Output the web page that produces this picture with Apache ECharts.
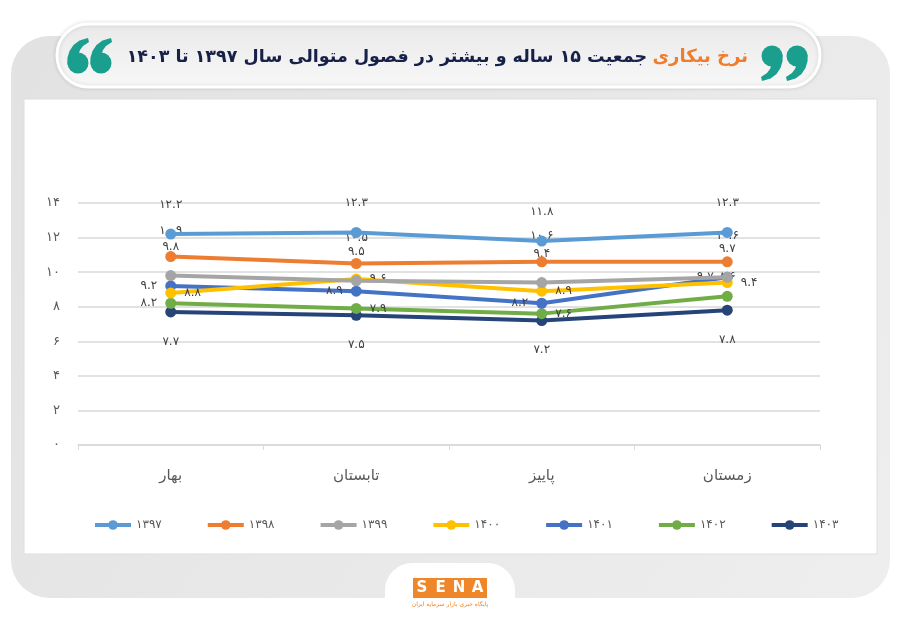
<!DOCTYPE html>
<html>
<head>
<meta charset="utf-8">
<script src="https://cdn.jsdelivr.net/npm/echarts@6/dist/echarts.min.js"></script>
<style>
  html, body { margin: 0; padding: 0; background: #fff; }
  #container { width: 900px; height: 623px; }
</style>
</head>
<body>
<div id="container"></div>
<script>
// fasl-ha va sal-ha
var seasons = ['بهار', 'تابستان', 'پاییز', 'زمستان'];
var years = ['۱۳۹۷', '۱۳۹۸', '۱۳۹۹', '۱۴۰۰', '۱۴۰۱', '۱۴۰۲', '۱۴۰۳'];

// nerkh bikari (darsad)
var s1397 = [12.2, 12.3, 11.8, 12.3];
var s1398 = [10.9, 10.5, 10.6, 10.6];
var s1399 = [9.8, 9.5, 9.4, 9.7];
var s1400 = [8.8, 9.6, 8.9, 9.4];
var s1401 = [9.2, 8.9, 8.2, 9.7];
var s1402 = [8.2, 7.9, 7.6, 8.6];
var s1403 = [7.7, 7.5, 7.2, 7.8];

var yTicks = [0, 2, 4, 6, 8, 10, 12, 14];

var colors = ['#5b9bd5', '#ed7d31', '#a5a5a5', '#ffc000', '#4472c4', '#70ad47', '#264478'];
var FONT = 'DejaVu Sans';
var TEAL = '#1a9e8d';

function fa(v){
    return String(v).replace(/\d/g, function(d){ return '۰۱۲۳۴۵۶۷۸۹'[d]; });
}

var allSeries = [s1397, s1398, s1399, s1400, s1401, s1402, s1403];
// label placement per series (style only)
var labelPos = [
    ['top', 'top', 'top', 'top'],
    ['top', 'top', 'top', 'top'],
    ['top', 'top', 'top', 'top'],
    ['right', 'right', 'right', 'right'],
    ['left', 'left', 'left', 'left'],
    ['left', 'right', 'right', 'top'],
    ['bottom', 'bottom', 'bottom', 'bottom']
];
var labelDist = [18, 14, 17, 8, 8, 8, 18];

var myChart = echarts.init(document.getElementById('container'));

var series = [];
for(let i = 0; i < allSeries.length; i++){
    series.push({
        name: years[i],
        type: 'line',
        data: allSeries[i].map(function(v, j){
            return {
                value: v,
                label: { position: labelPos[i][j] }
            };
        }),
        symbol: 'circle',
        symbolSize: 11,
        lineStyle: { width: 4, color: colors[i] },
        itemStyle: { color: colors[i] },
        z: 10 - i,
        label: {
            show: true,
            distance: labelDist[i],
            color: '#404040',
            fontFamily: FONT,
            fontSize: 12,
            formatter: function(p){ return fa(p.value); }
        }
    });
}

// one quote glyph: round head with a curled tail
var TAIL = [[-10.5, 2], [-10.6, -5], [-8.5, -12], [-4.5, -18], [1.5, -22.5], [10, -25], [11, -21], [5, -17], [2, -13], [1, -10]];
function quote(cx, cy, rot){
    return {
        type: 'group', x: cx, y: cy, rotation: rot, silent: true,
        children: [
            { type: 'circle', z: 5, shape: { cx: 0, cy: 0, r: 10.5 }, style: { fill: TEAL } },
            { type: 'polygon', z: 5, shape: { points: TAIL }, style: { fill: TEAL } }
        ]
    };
}

var option = {
    backgroundColor: '#ffffff',
    animation: false,
    color: colors,
    graphic: [
        // outer grey card
        {
            type: 'rect', z: -10, silent: true,
            shape: { x: 11, y: 36, width: 879, height: 562, r: 38 },
            style: { fill: new echarts.graphic.LinearGradient(0, 0, 1, 1, [
                { offset: 0, color: '#e2e2e2' }, { offset: 1, color: '#eeeeee' }
            ]) }
        },
        // white chart panel
        {
            type: 'rect', z: -9, silent: true,
            shape: { x: 24, y: 99, width: 853, height: 455 },
            style: { fill: '#ffffff', stroke: '#dedede', lineWidth: 1 }
        },
        // title pill
        {
            type: 'rect', z: -8, silent: true,
            shape: { x: 57, y: 24, width: 763, height: 63, r: 31 },
            style: {
                fill: new echarts.graphic.LinearGradient(0, 0, 0, 1, [
                    { offset: 0, color: '#e9e9e9' }, { offset: 1, color: '#f8f8f8' }
                ]),
                stroke: '#ffffff', lineWidth: 3,
                shadowBlur: 4, shadowColor: 'rgba(0,0,0,0.12)'
            }
        },
        quote(78, 63, 0),
        quote(101, 63, 0),
        quote(772, 56, Math.PI),
        quote(797, 56, Math.PI),
        {
            type: 'text', z: 5, silent: true,
            style: { x: 748, y: 57, text: 'نرخ بیکاری', fill: '#ef7d2d', font: 'bold 18px "DejaVu Sans"', align: 'right', verticalAlign: 'middle' }
        },
        {
            type: 'text', z: 5, silent: true,
            style: { x: 647, y: 57, text: 'جمعیت ۱۵ ساله و بیشتر در فصول متوالی سال ۱۳۹۷ تا ۱۴۰۳', fill: '#172049', font: 'bold 17.5px "DejaVu Sans"', align: 'right', verticalAlign: 'middle' }
        },
        // logo
        {
            type: 'rect', z: -7, silent: true,
            shape: { x: 385, y: 563, width: 130, height: 70, r: 27 },
            style: { fill: '#ffffff' }
        },
        {
            type: 'rect', z: 5, silent: true,
            shape: { x: 413, y: 578, width: 74, height: 20 },
            style: { fill: '#f0862a' }
        },
        { type: 'text', z: 7, silent: true, style: { x: 422, y: 588, text: 'S', fill: '#ffffff', font: 'bold 15px "DejaVu Sans"', align: 'center', verticalAlign: 'middle' } },
        { type: 'text', z: 7, silent: true, style: { x: 440.5, y: 588, text: 'E', fill: '#ffffff', font: 'bold 15px "DejaVu Sans"', align: 'center', verticalAlign: 'middle' } },
        { type: 'text', z: 7, silent: true, style: { x: 459, y: 588, text: 'N', fill: '#ffffff', font: 'bold 15px "DejaVu Sans"', align: 'center', verticalAlign: 'middle' } },
        { type: 'text', z: 7, silent: true, style: { x: 477.5, y: 588, text: 'A', fill: '#ffffff', font: 'bold 15px "DejaVu Sans"', align: 'center', verticalAlign: 'middle' } },
        {
            type: 'text', z: 6, silent: true,
            style: { x: 450, y: 604, text: 'پایگاه خبری بازار سرمایه ایران', fill: '#f0862a', font: '6px "DejaVu Sans"', align: 'center', verticalAlign: 'middle' }
        }
    ],
    grid: {
        left: 78,
        right: 80,
        top: 203,
        bottom: 178
    },
    legend: {
        data: years,
        left: 88,
        top: 514,
        itemWidth: 36,
        itemHeight: 12,
        itemGap: 44,
        lineStyle: { width: 4 },
        textStyle: { fontFamily: FONT, fontSize: 12, color: '#595959' }
    },
    xAxis: {
        type: 'category',
        data: seasons,
        axisLine: { lineStyle: { color: '#d9d9d9', width: 1.5 } },
        axisTick: { show: true, length: 5, lineStyle: { color: '#d9d9d9' } },
        axisLabel: { margin: 24, fontFamily: FONT, fontSize: 15, color: '#595959' }
    },
    yAxis: {
        type: 'value',
        min: yTicks[0],
        max: yTicks[yTicks.length - 1],
        interval: yTicks[1] - yTicks[0],
        axisLine: { show: false },
        axisTick: { show: false },
        splitLine: { lineStyle: { color: '#d9d9d9', width: 1.5 } },
        axisLabel: {
            margin: 18,
            fontFamily: FONT,
            fontSize: 13,
            color: '#595959',
            formatter: function(v){ return fa(v); }
        }
    },
    series: series
};

myChart.setOption(option, true);
</script>
</body>
</html>
